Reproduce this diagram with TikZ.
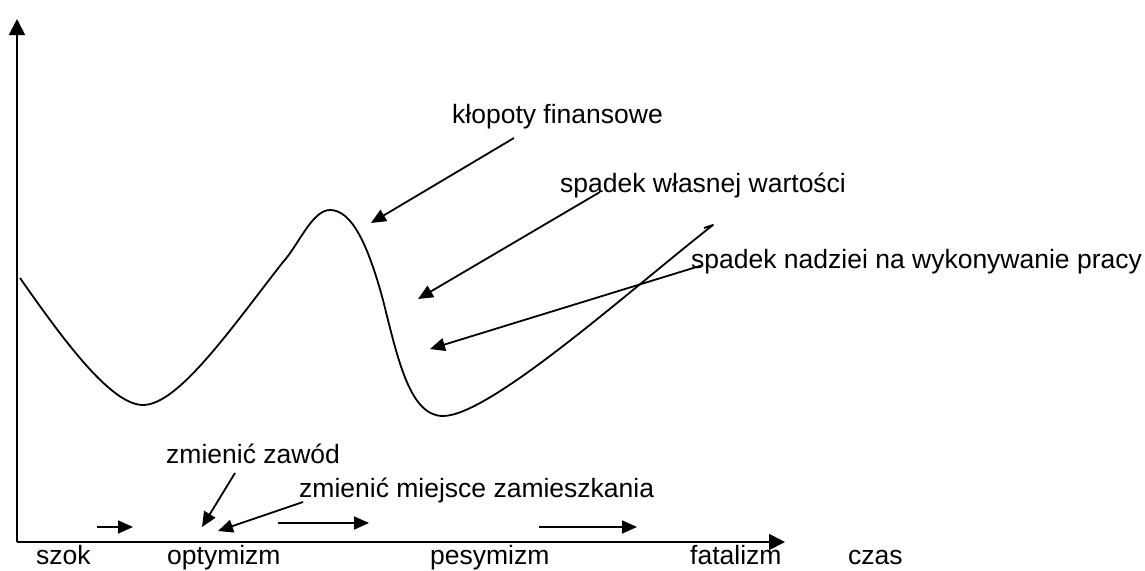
\documentclass[tikz,border=0pt]{standalone}
\usepackage{fontspec}
\setmainfont{Liberation Sans}
\usetikzlibrary{arrows.meta}
\begin{document}
\begin{tikzpicture}[x=1pt,y=-1pt,
  lbl/.style={anchor=base west,inner sep=0pt,font=\fontsize{26.5}{30}\selectfont},
  ln/.style={line width=1.8pt},
  axarrow/.style={ln,-{Triangle[length=16pt,width=16pt]}},
  pointer/.style={ln,-{Triangle[length=15pt,width=13pt]}}]
\useasboundingbox[fill=white] (0,0) rectangle (1145,570);
% axes
\coordinate (O) at (17,542);
\coordinate (ytip) at (17,19);
\coordinate (xtip) at (785,542);
\draw[axarrow] (O) -- (ytip);
\draw[axarrow] (O) -- (xtip);
% curve
\coordinate (c0) at (20,278);
\coordinate (cmin1) at (143,405);
\coordinate (cshoulder) at (283,262);
\coordinate (cpeak) at (330,210);
\coordinate (cfall) at (383,300);
\coordinate (cmin2) at (443,416);
\coordinate (cend) at (713,225);
\coordinate (chook) at (704,228);
\draw[ln,line join=round]
  (c0) .. controls (60,335) and (110,405) .. (cmin1)
       .. controls (178,405) and (230,330) .. (cshoulder)
       .. controls (298,246) and (312,210) .. (cpeak)
       .. controls (352,210) and (368,245) .. (cfall)
       .. controls (398,360) and (410,416) .. (cmin2)
       .. controls (490,416) and (630,290) .. (cend) -- (chook);
% labels
\node[lbl] (klop) at (452,123) {kłopoty finansowe};
\node[lbl] (wart) at (560,192) {spadek własnej wartości};
\node[lbl] (nadz) at (691,268) {spadek nadziei na wykonywanie pracy};
\node[lbl] (zaw) at (166,463) {zmienić zawód};
\node[lbl] (miej) at (299,497) {zmienić miejsce zamieszkania};
\node[lbl] (szok) at (36,564) {szok};
\node[lbl] (opt) at (167,564) {optymizm};
\node[lbl] (pes) at (430,564) {pesymizm};
\node[lbl] (fat) at (690,564) {fatalizm};
\node[lbl] (czas) at (848,564) {czas};
% pointer ends
\coordinate (k0) at (514,138); \coordinate (k1) at (371,223);
\coordinate (w0) at (600,192); \coordinate (w1) at (418,299);
\coordinate (n0) at (703,265); \coordinate (n1) at (430,349);
\coordinate (z0) at (235,473); \coordinate (z1) at (202,527);
\coordinate (m0) at (303,502); \coordinate (m1) at (218,531);
\coordinate (a0) at (97,527);  \coordinate (a1) at (133,527);
\coordinate (b0) at (278,523); \coordinate (b1) at (369,523);
\coordinate (e0) at (539,527); \coordinate (e1) at (637,527);
\draw[pointer] (k0) -- (k1);
\draw[pointer] (w0) -- (w1);
\draw[pointer] (n0) -- (n1);
\draw[pointer] (z0) -- (z1);
\draw[pointer] (m0) -- (m1);
\draw[pointer] (a0) -- (a1);
\draw[pointer] (b0) -- (b1);
\draw[pointer] (e0) -- (e1);
\end{tikzpicture}
\end{document}
